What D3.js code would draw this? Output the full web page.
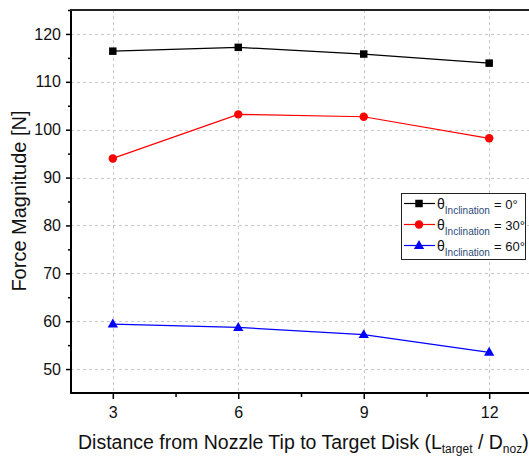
<!DOCTYPE html>
<html><head><meta charset="utf-8">
<script src="https://cdn.jsdelivr.net/npm/d3@7"></script>
<style>body{margin:0;background:#fff}svg{display:block}text{font-family:"Liberation Sans",Arial,sans-serif}</style>
</head><body><svg id="c" width="529" height="456"></svg>
<script>
const distances = [3, 6, 9, 12];
const force0 = [116.4, 117.2, 115.8, 113.9];
const force30 = [94.0, 103.2, 102.7, 98.2];
const force60 = [59.4, 58.7, 57.2, 53.5];
const seriesNames = ["= 0°", "= 30°", "= 60°"];
const seriesColors = ["#000000", "#ff0000", "#0000ff"];
const seriesShapes = ["square", "circle", "triangle"];
const yTicks = [50, 60, 70, 80, 90, 100, 110, 120];
const xTicks = [3, 6, 9, 12];

const svg = d3.select("#c");
const L = 71, T = 10, R = 531, B = 393;
const x = d3.scaleLinear().domain([2, 13]).range([L, R]);
const y = d3.scaleLinear().domain([45, 125]).range([B, T]);

// grid
const grid = svg.append("g").attr("stroke", "#c8c8c8").attr("stroke-dasharray", "3,3").attr("stroke-width", 1);
yTicks.forEach(v => grid.append("line").attr("x1", L).attr("x2", R).attr("y1", Math.round(y(v)) + 0.5).attr("y2", Math.round(y(v)) + 0.5));
xTicks.forEach(v => grid.append("line").attr("y1", T).attr("y2", B).attr("x1", Math.round(x(v)) + 0.5).attr("x2", Math.round(x(v)) + 0.5));

// axes
const yAxis = d3.axisLeft(y).tickValues(yTicks).tickSize(5).tickPadding(5).tickFormat(d3.format("d"));
const yMinor = d3.axisLeft(y).tickValues([55, 65, 75, 85, 95, 105, 115, 125]).tickSize(3).tickFormat("");
const xAxis = d3.axisBottom(x).tickValues(xTicks).tickSize(6).tickPadding(8).tickFormat(d3.format("d"));
const xMinor = d3.axisBottom(x).tickValues([4.5, 7.5, 10.5]).tickSize(4).tickFormat("");

function styleAxis(g) {
  g.select(".domain").remove();
  g.selectAll(".tick line").attr("stroke", "#000").attr("stroke-width", 1.5);
  g.selectAll("text").attr("font-size", 16).attr("fill", "#111").attr("font-family", '"Liberation Sans",Arial,sans-serif');
}
svg.append("g").attr("transform", `translate(${L},0)`).call(yAxis).call(styleAxis);
svg.append("g").attr("transform", `translate(${L},0)`).call(yMinor).call(styleAxis);
svg.append("g").attr("transform", `translate(0,${B})`).call(xAxis).call(styleAxis);
svg.append("g").attr("transform", `translate(0,${B})`).call(xMinor).call(styleAxis);

svg.append("line").attr("x1", L).attr("x2", L).attr("y1", T - 1).attr("y2", B + 1).attr("stroke", "#000").attr("stroke-width", 2);
svg.append("line").attr("x1", L - 1).attr("x2", 529).attr("y1", B).attr("y2", B).attr("stroke", "#000").attr("stroke-width", 2);
svg.append("line").attr("x1", L - 1).attr("x2", 529).attr("y1", T).attr("y2", T).attr("stroke", "#222").attr("stroke-width", 2);

// series
const allSeries = [force0, force30, force60];
const symType = {square: d3.symbolSquare, circle: d3.symbolCircle, triangle: d3.symbolTriangle};
const symSize = {square: 56, circle: 56, triangle: 46};
const line = d3.line().x(d => x(d[0])).y(d => y(d[1]));
allSeries.forEach((vals, i) => {
  const pts = distances.map((d, j) => [d, vals[j]]);
  svg.append("path").attr("d", line(pts)).attr("fill", "none").attr("stroke", seriesColors[i]).attr("stroke-width", 1.2);
  svg.selectAll(null).data(pts).enter().append("path")
    .attr("d", d3.symbol().type(symType[seriesShapes[i]]).size(symSize[seriesShapes[i]]))
    .attr("transform", d => `translate(${x(d[0])},${y(d[1]) + (seriesShapes[i] === "triangle" ? 0.5 : 0)})`)
    .attr("fill", seriesColors[i]);
});

// legend
const lg = svg.append("g");
lg.append("rect").attr("x", 401.5).attr("y", 193.5).attr("width", 124).attr("height", 66).attr("fill", "#fff").attr("stroke", "#222").attr("stroke-width", 1);
seriesNames.forEach((n, i) => {
  const yy = 203.5 + i * 21;
  lg.append("line").attr("x1", 404).attr("x2", 435).attr("y1", yy).attr("y2", yy).attr("stroke", seriesColors[i]).attr("stroke-width", 1.2);
  lg.append("path").attr("d", d3.symbol().type(symType[seriesShapes[i]]).size(symSize[seriesShapes[i]])())
    .attr("transform", `translate(419,${yy + (seriesShapes[i] === "triangle" ? 0.5 : 0)})`).attr("fill", seriesColors[i]);
  const t = lg.append("text").attr("x", 437).attr("y", yy + 5).attr("font-size", 14).attr("fill", "#111");
  t.append("tspan").text("θ");
  t.append("tspan").attr("font-size", 10).attr("dy", 5).attr("fill", "#2b4a78").text("Inclination");
  lg.append("text").attr("x", 494).attr("y", yy + 5).attr("font-size", 13).attr("fill", "#111").text(n);
});

// axis titles
svg.append("text").attr("transform", `translate(26,201) rotate(-90)`).attr("text-anchor", "middle")
  .attr("font-size", 20).attr("fill", "#111").text("Force Magnitude [N]");
const xt = svg.append("text").attr("x", 78).attr("y", 449).attr("text-anchor", "start").attr("font-size", 19.5).attr("fill", "#111");
xt.append("tspan").text("Distance from Nozzle Tip to Target Disk (L");
xt.append("tspan").attr("font-size", 12).attr("dy", 4).text("target");
xt.append("tspan").attr("dy", -4).text(" / D");
xt.append("tspan").attr("font-size", 12).attr("dy", 4).text("noz");
xt.append("tspan").attr("dy", -4).text(")");
</script></body></html>
